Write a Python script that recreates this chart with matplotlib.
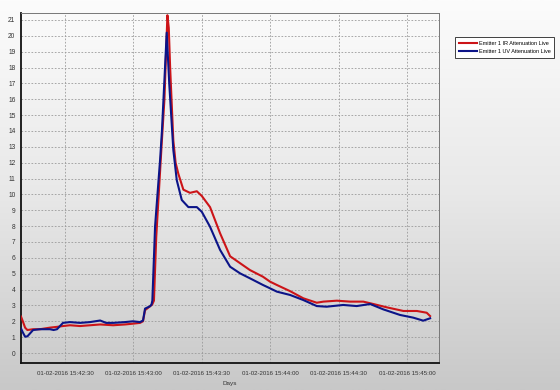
import numpy as np
import pandas as pd
import matplotlib
matplotlib.use("Agg")
import matplotlib.pyplot as plt
from matplotlib.colors import LinearSegmentedColormap

# ---- data (seconds after 15:42:00 on 01-02-2016) ----
start_time = "2016-02-01 15:42:00"
ir_seconds = [10.7, 11.5, 12.5, 13.5, 16.0, 19.0, 23.4, 26.5, 29.1, 32.2, 36.6, 41.0,
              45.4, 51.1, 56.3, 59.8, 62.9, 64.2, 65.1, 67.3, 68.2, 69.0, 70.0, 71.3,
              72.4, 73.6, 74.9, 75.5, 76.1, 77.5, 78.5, 79.7, 81.9, 84.8, 87.8, 90.0,
              93.6, 98.0, 102.4, 106.8, 111.1, 116.8, 119.9, 122.9, 128.7, 134.5,
              140.4, 143.3, 149.2, 155.0, 160.8, 165.2, 171.1, 178.4, 184.3, 188.6, 190.1]
ir_values = [2.3, 2.0, 1.6, 1.45, 1.5, 1.5, 1.6, 1.65, 1.7, 1.75, 1.7, 1.75,
             1.8, 1.75, 1.8, 1.85, 1.9, 2.0, 2.7, 2.95, 3.05, 3.3, 7.3, 10.5,
             13.2, 16.0, 21.3, 20.5, 18.0, 13.4, 12.0, 11.3, 10.3, 10.1, 10.2, 9.9,
             9.2, 7.55, 6.1, 5.66, 5.23, 4.81, 4.5, 4.29, 3.9, 3.45,
             3.17, 3.24, 3.3, 3.24, 3.24, 3.09, 2.88, 2.65, 2.65, 2.54, 2.33]

uv_seconds = [10.7, 11.5, 12.5, 13.5, 16.0, 19.0, 23.4, 25.0, 26.5, 29.1, 32.2, 36.6,
              41.0, 45.4, 48.0, 51.1, 56.3, 59.8, 62.9, 64.2, 65.1, 67.3, 67.9, 68.3,
              69.5, 71.7, 72.5, 74.6, 75.7, 77.5, 79.0, 81.2, 84.1, 87.8, 90.0, 93.6,
              98.0, 102.4, 106.8, 111.1, 116.8, 119.9, 122.9, 128.7, 134.5, 140.4,
              144.7, 152.0, 157.9, 163.8, 169.6, 176.9, 182.7, 187.1, 190.1]
uv_values = [1.55, 1.3, 1.03, 1.05, 1.45, 1.5, 1.5, 1.45, 1.5, 1.9, 1.95, 1.9,
             1.95, 2.05, 1.9, 1.9, 1.95, 2.0, 1.95, 2.05, 2.8, 2.95, 3.05, 3.3,
             8.0, 12.2, 14.0, 20.2, 17.0, 12.8, 10.9, 9.65, 9.2, 9.2, 8.9, 7.96,
             6.5, 5.44, 5.02, 4.71, 4.29, 4.08, 3.87, 3.66, 3.34, 2.96,
             2.92, 3.03, 2.96, 3.09, 2.75, 2.4, 2.23, 2.04, 2.19]

series_labels = ["Emitter 1 IR Attenuation Live", "Emitter 1 UV Attenuation Live"]
x_tick_labels = ["01-02-2016 15:42:30", "01-02-2016 15:43:00", "01-02-2016 15:43:30",
                 "01-02-2016 15:44:00", "01-02-2016 15:44:30", "01-02-2016 15:45:00"]
y_ticks = list(range(0, 22))
x_label = "Days"

plt.rcParams["font.family"] = ["Liberation Sans", "DejaVu Sans"]

base = pd.Timestamp(start_time)
ir_t = [base + pd.Timedelta(seconds=s) for s in ir_seconds]
uv_t = [base + pd.Timedelta(seconds=s) for s in uv_seconds]
tick_t = [pd.to_datetime(s, format="%d-%m-%Y %H:%M:%S") for s in x_tick_labels]
tick_t = [base.normalize() + (t - t.normalize()) for t in tick_t]

fig = plt.figure(figsize=(5.6, 3.9), dpi=100)

# background gradient
bg = fig.add_axes([0, 0, 1, 1], zorder=-10)
grad = np.linspace(0, 1, 256).reshape(-1, 1)
cmap = LinearSegmentedColormap.from_list("g", ["#fcfcfc", "#e8e8e8", "#c8c8c8"])
bg.imshow(grad, aspect="auto", cmap=cmap, extent=[0, 1, 0, 1])
bg.set_axis_off()

ax = fig.add_axes([21 / 560, 1 - 363 / 390, (439 - 21) / 560, (363 - 13) / 390])
ax.patch.set_alpha(0)

ax.plot(ir_t, ir_values, color="#cc1418", lw=1.5, label=series_labels[0], zorder=3)
ax.plot(uv_t, uv_values, color="#0c1488", lw=1.5, label=series_labels[1], zorder=4)

x0 = base + pd.Timedelta(seconds=10.7)
x1 = base + pd.Timedelta(seconds=194.0)
ax.set_xlim(x0, x1)
ax.set_ylim(-0.63, 21.44)

ax.set_xticks(tick_t)
ax.set_xticklabels(x_tick_labels)
ax.set_yticks(y_ticks)
ax.set_yticklabels([str(v) for v in y_ticks])
ax.tick_params(axis="x", length=0, labelsize=4.4, colors="#333333", pad=6)
ax.tick_params(axis="y", length=0, labelsize=4.8, colors="#333333", pad=4)
ax.set_xlabel(x_label, fontsize=4.6, color="#333333", labelpad=3)

ax.grid(True, color="#9a9a9a", linestyle=(0, (2, 2)), linewidth=0.6)
ax.set_axisbelow(True)

for side in ["left", "bottom"]:
    ax.spines[side].set_color("#111111")
    ax.spines[side].set_linewidth(1.3)
for side in ["top", "right"]:
    ax.spines[side].set_color("#777777")
    ax.spines[side].set_linewidth(0.7)

leg = fig.legend(loc="upper left", bbox_to_anchor=(455 / 560, 1 - 37 / 390),
                 fontsize=4.0, frameon=True, fancybox=False, shadow=False,
                 handlelength=3.2, handletextpad=0.35, borderpad=0.7,
                 labelspacing=0.55, borderaxespad=0)
leg.get_frame().set_edgecolor("#222222")
leg.get_frame().set_linewidth(0.6)
leg.get_frame().set_facecolor("white")
leg.get_frame().set_alpha(1)

fig.savefig("out.png", dpi=100)
